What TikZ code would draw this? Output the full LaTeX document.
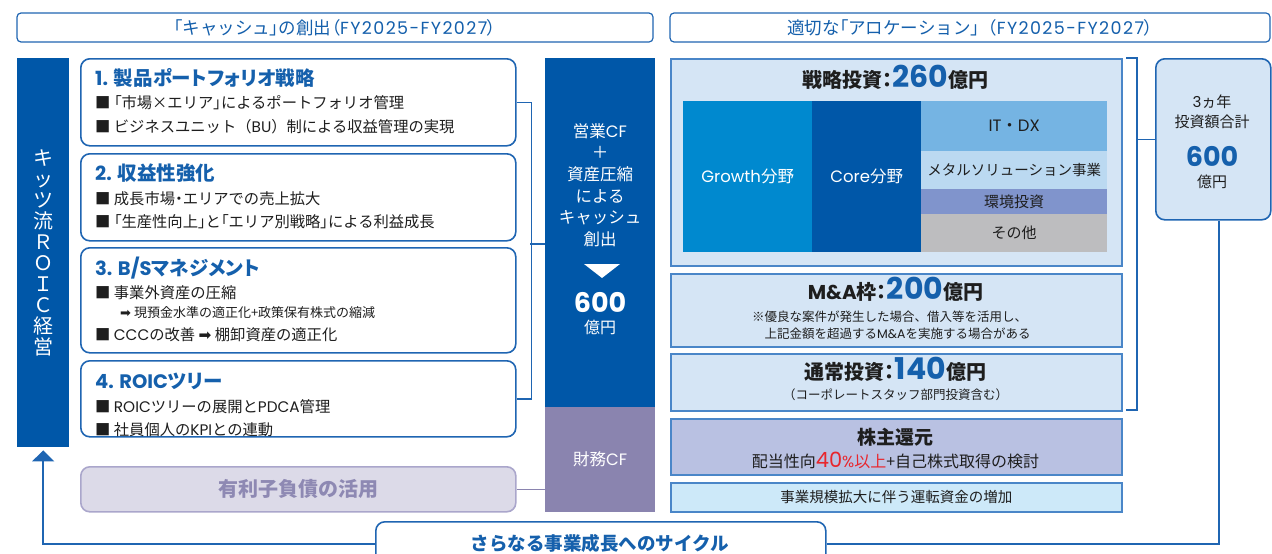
\documentclass[tikz,border=0pt]{standalone}
\usepackage{fontspec}
\setmainfont{Noto Sans CJK JP}
\newfontfamily\pfont{Noto Sans CJK JP}[RawFeature=+palt]
\newfontfamily\numfont{Poppins}
\newfontfamily\lat{Poppins}
\newfontfamily\latw{Poppins}[LetterSpace=8]
\newfontfamily\symfont{DejaVu Sans}
\usetikzlibrary{arrows.meta}
\newcommand\myfs[1]{\fontsize{#1}{1.2\dimexpr #1pt\relax}\selectfont}
\newcommand\myfsb[2]{\fontsize{#1}{#2}\selectfont}
\newcommand\myLB{{\pfont 「}}
\newcommand\myRB{{\pfont 」}}
\newcommand\myLP{{\pfont （}}
\newcommand\myRP{{\pfont ）}}
\newcommand\myCLN{{\pfont ：}}
\newcommand\myDOT{{\pfont ・}}
\definecolor{kblue}{HTML}{0057A8}
\definecolor{lineblue}{HTML}{1F65B2}
\definecolor{titleblue}{HTML}{1560AC}
\definecolor{txtdark}{HTML}{1E1E1E}
\definecolor{lightfill}{HTML}{D5E5F5}
\definecolor{rborder}{HTML}{4A86C8}
\definecolor{growth}{HTML}{0089CF}
\definecolor{itdx}{HTML}{75B4E3}
\definecolor{metal}{HTML}{BBD9F1}
\definecolor{env}{HTML}{8094CC}
\definecolor{other}{HTML}{BDBDBF}
\definecolor{purp}{HTML}{8A84AF}
\definecolor{lav}{HTML}{DCDAE8}
\definecolor{lavborder}{HTML}{AAA6CB}
\definecolor{lavtext}{HTML}{8E89B3}
\definecolor{sharefill}{HTML}{B9C1E2}
\definecolor{workfill}{HTML}{CDE9F9}
\definecolor{myred}{HTML}{E8262D}
\tikzset{
  hdr/.style={draw=lineblue, line width=1.2pt, rounded corners=4pt, fill=white, minimum height=29pt, inner sep=0, text=titleblue, font=\myfs{17.5}},
  lbox/.style={draw=lineblue, line width=1.6pt, rounded corners=9pt, fill=white, minimum width=435pt, anchor=north west, inner sep=0},
  ttl/.style={anchor=west, text=titleblue, font=\pfont\myfs{19.5}\bfseries, inner sep=0},
  bodytxt/.style={anchor=west, text=txtdark, font=\myfs{15.3}, inner sep=0},
  col/.style={anchor=north west, inner sep=0, minimum width=110pt},
  coltxt/.style={text=white, inner sep=0, align=center},
  rbox/.style={draw=rborder, line width=1.6pt, fill=lightfill, anchor=north west, minimum width=451pt, inner sep=0},
  cell/.style={anchor=north west, inner sep=0},
  ctr/.style={inner sep=0, align=center, text=txtdark},
  conn/.style={draw=lineblue, line width=1.6pt},
}
\begin{document}
\begin{tikzpicture}[x=1pt,y=-1pt]
\useasboundingbox (0,0) rectangle (1272,554);

% headers
\node[hdr, minimum width=636pt] (hdrL) at (335,27.5) {\myLB キャッシュ\myRB の創出\myLP{\latw FY2025-FY2027}\myRP};
\node[hdr, minimum width=600pt] (hdrR) at (970,27.5) {適切な\myLB アロケーション\myRB （{\latw FY2025-FY2027}\myRP};

% left vertical bar
\node[fill=kblue, anchor=north west, minimum width=52pt, minimum height=389pt, inner sep=0] (kitz) at (17,58) {};
\node[text=white, align=center, inner sep=0, font=\myfsb{20}{21}] (kitztxt) at (kitz.center) {キ\\ッ\\ツ\\流\\Ｒ\\Ｏ\\Ｉ\\Ｃ\\経\\営};

% left boxes
\node[lbox, minimum height=87pt] (b1) at (80,58) {};
\node[ttl] (b1t) at (95,78) {{\lat 1.} 製品ポートフォリオ戦略};
\node[bodytxt] (b1a) at (95,103) {■ \myLB 市場×エリア\myRB によるポートフォリオ管理};
\node[bodytxt] (b1b) at (95,127) {■ ビジネスユニット（{\lat BU}）制による収益管理の実現};

\node[lbox, minimum height=87pt] (b2) at (80,153) {};
\node[ttl] (b2t) at (95,173) {{\lat 2.} 収益性強化};
\node[bodytxt] (b2a) at (95,199) {■ 成長市場\myDOT エリアでの売上拡大};
\node[bodytxt] (b2b) at (95,222) {■ \myLB 生産性向上\myRB と\myLB エリア別戦略\myRB による利益成長};

\node[lbox, minimum height=105pt] (b3) at (80,247) {};
\node[ttl] (b3t) at (95,268) {{\lat 3. B/S}マネジメント};
\node[bodytxt] (b3a) at (95,293) {■ 事業外資産の圧縮};
\node[bodytxt, font=\myfs{13}] (b3s) at (120,313) {{\symfont ➡} 現預金水準の適正化+政策保有株式の縮減};
\node[bodytxt] (b3b) at (95,335) {■ {\lat CCC}の改善 {\symfont ➡} 棚卸資産の適正化};

\node[lbox, minimum height=76pt] (b4) at (80,360) {};
\node[ttl] (b4t) at (95,381) {{\lat 4. ROIC}ツリー};
\node[bodytxt] (b4a) at (95,407) {■ {\lat ROIC}ツリーの展開と{\lat PDCA}管理};
\node[bodytxt] (b4b) at (95,430) {■ 社員個人の{\lat KPI}との連動};

% debt box
\node[draw=lavborder, line width=1.6pt, rounded corners=9pt, fill=lav, anchor=north west, minimum width=435pt, minimum height=45pt, inner sep=0, text=lavtext, font=\myfs{20}\bfseries] (debt) at (80,466) {有利子負債の活用};

% centre columns
\node[col, fill=kblue, minimum height=349pt] (cf) at (545,58) {};
\node[coltxt, font=\myfsb{16.5}{21.6}] (cftxt) at (600,185) {営業{\lat CF}\\＋\\資産圧縮\\による\\キャッシュ\\創出};
\fill[white] (584,264) -- (620,264) -- (602,278) -- cycle;
\node[coltxt, font=\numfont\bfseries\myfs{27}] (cf600) at (600,302) {600};
\node[coltxt, font=\myfs{16}] (cfoku) at (600,327) {億円};
\node[col, fill=purp, minimum height=105pt] (fcf) at (545,407) {};
\node[coltxt, font=\myfs{16.5}] (fcftxt) at (fcf.center) {財務{\lat CF}};

% left connectors
\draw[conn] (b1.east) -- ++(15,0) |- (b4.east);
\coordinate (lbm) at (530,244);
\draw[conn] (lbm) -- (lbm -| cf.west);
\draw[draw=purp, line width=1.6pt] (debt.east) -- (debt.east -| fcf.west);

% strategic investment
\node[rbox, minimum height=207pt] (strat) at (670,58) {};
\node[ctr, font=\myfs{20}\bfseries] (stratt) at (895.5,80) {戦略投資\myCLN{\numfont\color{titleblue}\myfs{30}\smash{260}}億円};
\node[cell, fill=growth, minimum width=129pt, minimum height=151pt] (gro) at (683,101) {};
\node[ctr, text=white, font=\myfs{16.5}] (grot) at (gro.center) {{\numfont Growth}分野};
\node[cell, fill=kblue, minimum width=109pt, minimum height=151pt] (core) at (812,101) {};
\node[ctr, text=white, font=\myfs{16.5}] (coret) at (core.center) {{\numfont Core}分野};
\node[cell, fill=itdx, minimum width=186pt, minimum height=50pt] (itdx) at (921,101) {};
\node[ctr, font=\myfs{16.5}] (itdxt) at (itdx.center) {{\lat IT}・{\lat DX}};
\node[cell, fill=metal, minimum width=186pt, minimum height=38pt] (metal) at (921,151) {};
\node[ctr, font=\myfs{14.5}] (metalt) at (metal.center) {メタルソリューション事業};
\node[cell, fill=env, minimum width=186pt, minimum height=25pt] (env) at (921,189) {};
\node[ctr, font=\myfs{15}] (envt) at (env.center) {環境投資};
\node[cell, fill=other, minimum width=186pt, minimum height=38pt] (oth) at (921,214) {};
\node[ctr, font=\myfs{15}] (otht) at (oth.center) {その他};

% M&A
\node[rbox, minimum height=73pt] (ma) at (670,273) {};
\node[ctr, font=\myfs{20}\bfseries] (mat) at (895.5,292) {{\lat M\&A}枠\myCLN{\numfont\color{titleblue}\myfs{30}\smash{200}}億円};
\node[anchor=west, inner sep=0, align=left, text=txtdark, font=\myfsb{12.5}{17}] (man) at (752,325.5) {※優良な案件が発生した場合、借入等を活用し、\\　上記金額を超過する{\lat M\&A}を実施する場合がある};

% normal
\node[rbox, minimum height=57pt] (norm) at (670,353) {};
\node[ctr, font=\myfs{20}\bfseries] (normt) at (895.5,372) {通常投資\myCLN{\numfont\color{titleblue}\myfs{30}\smash{140}}億円};
\node[ctr, font=\myfs{12.5}] (norms) at (895.5,395) {（コーポレートスタッフ部門投資含む）};

% shareholder return
\node[rbox, fill=sharefill, minimum height=56pt] (share) at (670,418) {};
\node[ctr, font=\myfs{19}\bfseries] (sharet) at (895.5,437) {株主還元};
\node[ctr, font=\myfs{16}] (shares) at (895.5,461) {配当性向{\color{myred}{\numfont\myfs{21}\smash{40}\myfs{16}\%}以上}+自己株式取得の検討};

% working capital
\node[rbox, fill=workfill, minimum height=29pt] (work) at (670,482) {};
\node[ctr, font=\myfs{14.5}] (workt) at (work.center) {事業規模拡大に伴う運転資金の増加};

% total box
\node[draw=lineblue, line width=1.6pt, rounded corners=9pt, fill=lightfill, anchor=north west, minimum width=115pt, minimum height=161pt, inner sep=0] (total) at (1155,58) {};
\node[ctr, font=\myfs{15}] (tot1) at (1212,102) {{\lat 3}ヵ年};
\node[ctr, font=\myfs{15}] (tot2) at (1212,122) {投資額合計};
\node[ctr, text=titleblue, font=\numfont\bfseries\myfs{27}] (tot3) at (1212,156) {600};
\node[ctr, font=\myfs{15}] (tot4) at (1212,182) {億円};

% right bracket
\coordinate (rbt) at (1137,58);
\coordinate (rbb) at (1137,410);
\draw[conn] ([xshift=-11pt]rbt) -- (rbt) -- (rbb) -- ([xshift=-11pt]rbb);
\draw[conn] (rbt |- total.west) -- (total.west);

% cycle
\node[draw=lineblue, line width=1.6pt, rounded corners=9pt, fill=white, anchor=north west, minimum width=450pt, minimum height=44pt, inner sep=0] (cycle) at (375,521) {};
\node[ctr, text=titleblue, font=\myfs{18.5}\bfseries] (cyclet) at (600,543) {さらなる事業成長へのサイクル};
\draw[conn, -{Triangle[width=22pt,length=11pt]}] (cycle.west) -| ([yshift=-3pt]kitz.south);
\draw[conn] (cycle.east) -| ([xshift=5.5pt]total.south);
\end{tikzpicture}
\end{document}
